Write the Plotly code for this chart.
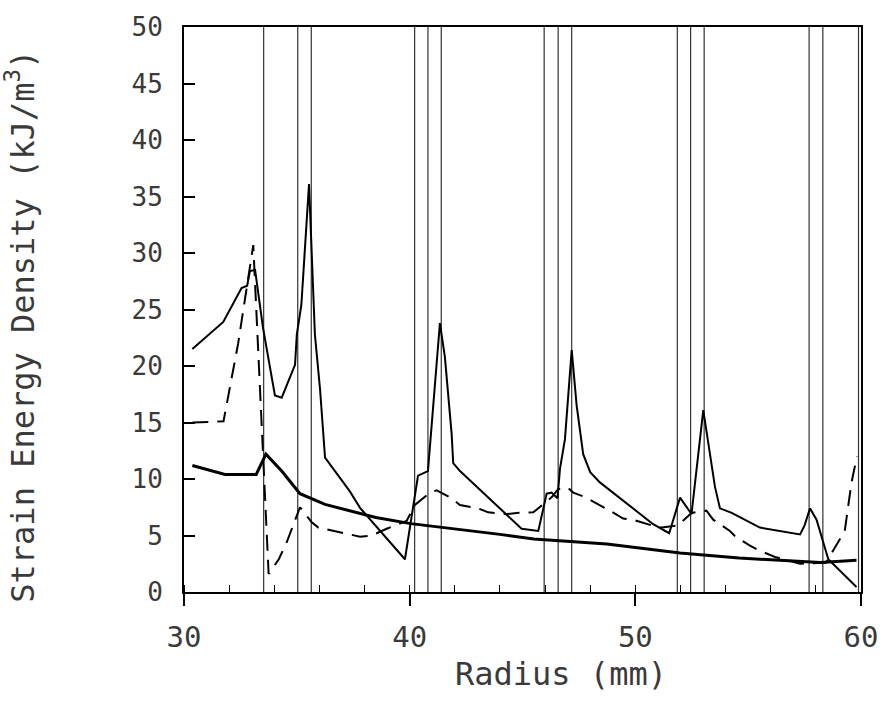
import plotly.graph_objects as go

# ---- data ----
thick_x = [30.37, 31.82, 33.2, 33.63, 34.33, 35.14, 36.25, 37.77, 38.5, 40.05, 40.94,
           42.27, 44.0, 45.5, 48.74, 51.98, 54.6, 58.2, 59.8]
thick_y = [11.2, 10.4, 10.4, 12.2, 10.7, 8.7, 7.75, 6.95, 6.6, 6.05, 5.85,
           5.55, 5.1, 4.7, 4.25, 3.45, 3.0, 2.6, 2.8]

thin_x = [30.37, 31.74, 32.55, 32.8, 32.92, 33.15, 33.5, 34.03, 34.33, 34.92, 35.0, 35.2,
          35.54, 35.8, 36.03, 36.25, 37.35, 37.8, 39.79, 40.15, 40.37, 40.81, 41.34,
          41.56, 41.86, 41.93, 42.23, 44.96, 45.7, 46.07, 46.29, 46.55, 46.66, 46.88,
          47.18, 47.4, 47.69, 48.0, 48.43, 50.79, 51.5, 51.98, 52.49, 53.01, 53.53,
          53.75, 54.27, 55.52, 57.3, 57.5, 57.74, 58.03, 58.55, 59.8]
thin_y = [21.5, 23.9, 26.9, 27.1, 28.4, 28.5, 23.4, 17.4, 17.2, 20.1, 22.8, 25.4,
          36.1, 22.8, 17.9, 11.9, 8.9, 7.45, 2.9, 7.7, 10.3, 10.7, 23.8,
          20.8, 14.0, 11.4, 10.7, 5.6, 5.4, 8.7, 8.8, 8.3, 10.9, 13.5,
          21.4, 16.5, 12.2, 10.6, 9.7, 6.0, 5.2, 8.35, 6.9, 16.1, 9.3,
          7.4, 7.0, 5.7, 5.1, 5.9, 7.4, 6.4, 2.9, 0.45]

dash_x = [30.37, 31.75, 32.4, 32.7, 33.07, 33.75, 34.2, 34.55, 35.14, 35.65, 35.95,
          37.8, 38.32, 38.98, 39.87, 40.23, 40.9, 41.2, 41.86, 42.23, 43.04, 43.48,
          44.3, 44.74, 45.48, 46.3, 46.58, 47.0, 47.25, 47.77, 48.43, 48.87, 49.46,
          49.98, 50.72, 51.17, 51.9, 52.49, 53.15, 53.45, 54.19, 54.41, 55.08, 55.45,
          56.19, 57.3, 58.45, 58.84, 59.28, 59.58, 59.82]
dash_y = [15.0, 15.1, 22.0, 25.8, 30.7, 1.6, 2.9, 4.4, 7.5, 6.2, 5.7,
          4.9, 5.0, 5.6, 6.3, 7.7, 8.8, 9.0, 8.3, 7.7, 7.4, 7.05,
          6.9, 7.0, 7.05, 8.4, 9.1, 9.25, 8.8, 8.4, 7.7, 7.2, 6.5,
          6.35, 5.9, 5.7, 5.9, 7.0, 7.2, 6.4, 5.4, 4.95, 4.1, 3.7,
          3.1, 2.5, 2.6, 3.9, 5.4, 9.7, 12.0]

interfaces = [33.53, 35.04, 35.64, 40.22, 40.81, 41.40, 45.96, 46.58, 47.18,
              51.86, 52.45, 53.05, 57.70, 58.31, 59.89]

y_ticks = [0, 5, 10, 15, 20, 25, 30, 35, 40, 45, 50]
x_ticks = [30, 40, 50, 60]

FONT = "DejaVu Sans Mono"
TXT = "#3a3a3a"

fig = go.Figure()

for xv in interfaces:
    fig.add_vline(x=xv, line=dict(color="#333333", width=1.2), layer="below")

fig.add_trace(go.Scatter(x=thick_x, y=thick_y, mode="lines",
                         line=dict(color="black", width=3), showlegend=False))
fig.add_trace(go.Scatter(x=thin_x, y=thin_y, mode="lines",
                         line=dict(color="black", width=2), showlegend=False))
fig.add_trace(go.Scatter(x=dash_x, y=dash_y, mode="lines",
                         line=dict(color="black", width=2, dash="16px,9px"),
                         showlegend=False))

fig.update_layout(
    width=890, height=715,
    margin=dict(l=184, r=29, t=17, b=123),
    paper_bgcolor="white", plot_bgcolor="white",
    showlegend=False,
    xaxis=dict(
        range=[30, 60], tickvals=x_ticks, ticktext=[str(v) for v in x_ticks],
        ticks="outside", ticklen=12, tickwidth=1.5, tickcolor="black",
        minor=dict(dtick=2, ticks="inside", ticklen=7, tickwidth=1, tickcolor="black"),
        showline=True, linecolor="black", linewidth=2, mirror=True,
        showgrid=False, zeroline=False,
        tickfont=dict(family=FONT, size=29, color=TXT, weight=300),
        ticklabelstandoff=6,
    ),
    yaxis=dict(
        range=[0, 50], tickvals=y_ticks, ticktext=[str(v) for v in y_ticks],
        ticks="inside", ticklen=11, tickwidth=1.5, tickcolor="black",
        showline=True, linecolor="black", linewidth=2, mirror=True,
        showgrid=False, zeroline=False,
        tickfont=dict(family=FONT, size=26, color=TXT, weight=300),
        ticklabelstandoff=14,
    ),
    annotations=[
        dict(text="Radius (mm)", xref="paper", yref="paper",
             x=(561 - 184) / 677, y=(592 - 675) / 575, xanchor="center", yanchor="middle",
             showarrow=False, font=dict(family=FONT, size=32, color=TXT, weight=300)),
        dict(text="Strain Energy Density (kJ/m<sup>3</sup>)", xref="paper", yref="paper",
             x=(20 - 184) / 677, y=(592 - 322) / 575, xanchor="center", yanchor="middle",
             textangle=-90, showarrow=False,
             font=dict(family=FONT, size=32, color=TXT, weight=300)),
    ],
)

fig.write_html("out.html")
